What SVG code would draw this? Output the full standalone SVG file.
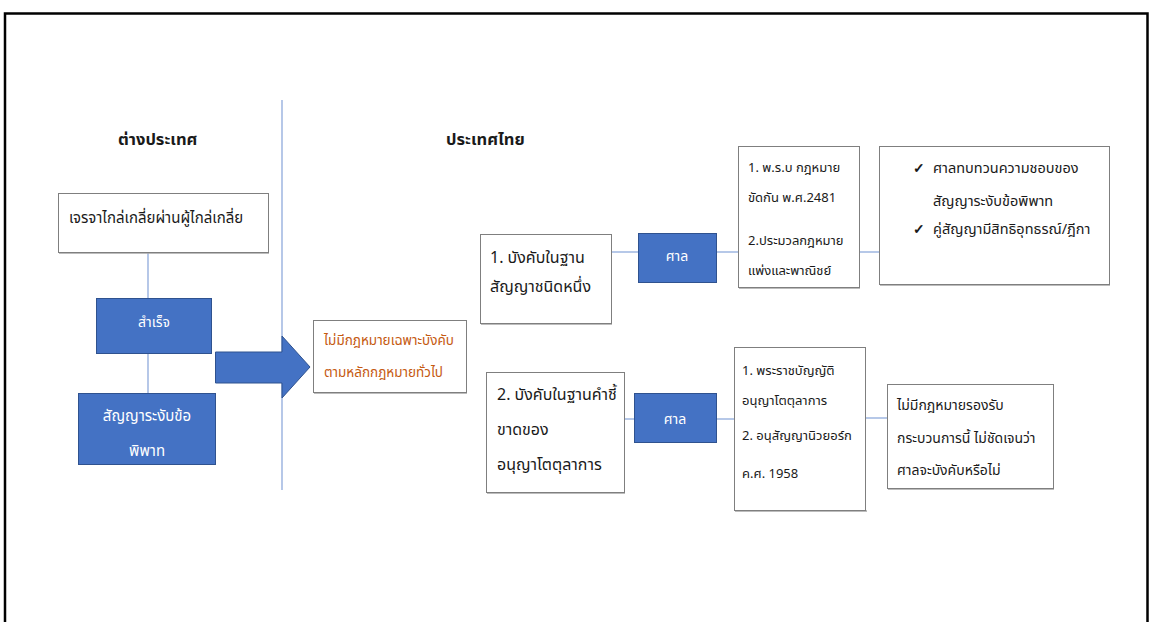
<svg xmlns="http://www.w3.org/2000/svg" width="1151" height="622" viewBox="0 0 1151 622">
<style>
.t{font-family:Tahoma,"Noto Sans Thai","Noto Sans","Liberation Sans",sans-serif;fill:#1a1a1a}
.h{font-size:16.5px;font-weight:bold}
.s13{font-size:13px}
.s135{font-size:13.5px}
.s14{font-size:14px}
.s145{font-size:14.5px}
.s15{font-size:15px}
.s16{font-size:16px}
.w{fill:#ffffff}
.o{fill:#C55A11}
.box{fill:#ffffff;stroke:#7f7f7f;stroke-width:1}
.sh{fill:none;stroke:#a6a6a6;stroke-width:1.5}
.blue{fill:#4472C4;stroke:#2F528F;stroke-width:1}
.ln{stroke:#8FAADC;stroke-width:1.3;fill:none}
</style>
<rect width="1151" height="622" fill="#ffffff"/>
<path d="M5,622 V13.5 H1147.5 V622" fill="none" stroke="#000" stroke-width="2.5"/>

<g id="connectors">
<line class="ln" x1="282" y1="100" x2="282" y2="490"/>
<line class="ln" x1="148" y1="253" x2="148" y2="298"/>
<line class="ln" x1="148" y1="353" x2="148" y2="393"/>
<line class="ln" x1="612" y1="252" x2="638" y2="252"/>
<line class="ln" x1="717" y1="252" x2="738" y2="252"/>
<line class="ln" x1="859" y1="252" x2="879" y2="252"/>
<line class="ln" x1="624" y1="419" x2="634" y2="419"/>
<line class="ln" x1="717" y1="419" x2="734" y2="419"/>
<line class="ln" x1="866" y1="418" x2="887" y2="418"/>
<path id="bigarrow" d="M215.5,352 H282 V336 L310,367 L282,398 V383 H215.5 Z" fill="#4472C4" stroke="#2F528F" stroke-width="1"/>
</g>

<g id="title-foreign"><text class="t h" x="118" y="145">ต่างประเทศ</text></g>
<g id="title-thai"><text class="t h" x="446" y="145">ประเทศไทย</text></g>

<g id="mediation">
<line class="sh" x1="59" y1="253" x2="269" y2="253"/>
<rect class="box" x="58.5" y="193.5" width="210" height="59"/>
<text class="t s15" x="69" y="223">เจรจาไกล่เกลี่ยผ่านผู้ไกล่เกลี่ย</text>
</g>

<g id="success">
<rect class="blue" x="96.5" y="298.5" width="115" height="55"/>
<text class="t s14 w" x="154" y="327" text-anchor="middle">สำเร็จ</text>
</g>

<g id="settlement">
<rect class="blue" x="78.5" y="393.5" width="137" height="71"/>
<text class="t s15 w" x="147" y="421" text-anchor="middle">สัญญาระงับข้อ</text>
<text class="t s15 w" x="147" y="456" text-anchor="middle">พิพาท</text>
</g>

<g id="general-law">
<line class="sh" x1="314" y1="393" x2="467" y2="393"/>
<rect class="box" x="313.5" y="320.5" width="153" height="72"/>
<text class="t s135 o" x="324" y="345">ไม่มีกฎหมายเฉพาะบังคับ</text>
<text class="t s135 o" x="324" y="377">ตามหลักกฎหมายทั่วไป</text>
</g>

<g id="contract">
<line class="sh" x1="481" y1="324" x2="612" y2="324"/>
<rect class="box" x="480.5" y="234.5" width="131" height="89"/>
<text class="t s16" x="490" y="263">1. บังคับในฐาน</text>
<text class="t s16" x="490" y="292">สัญญาชนิดหนึ่ง</text>
</g>

<g id="court1">
<rect class="blue" x="638.5" y="233.5" width="78" height="49"/>
<text class="t s14 w" x="677" y="261" text-anchor="middle">ศาล</text>
</g>

<g id="laws1">
<line class="sh" x1="739" y1="288" x2="860" y2="288"/>
<rect class="box" x="738.5" y="146.5" width="121" height="141"/>
<text class="t s13" x="748" y="172">1. พ.ร.บ กฎหมาย</text>
<text class="t s13" x="748" y="202">ขัดกัน พ.ศ.2481</text>
<text class="t s13" x="748" y="245">2.ประมวลกฎหมาย</text>
<text class="t s13" x="748" y="275">แพ่งและพาณิชย์</text>
</g>

<g id="review">
<line class="sh" x1="880" y1="285" x2="1110" y2="285"/>
<rect class="box" x="879.5" y="146.5" width="230" height="138"/>
<text class="t s14" x="913" y="173" font-weight="bold">✓</text>
<text class="t s145" x="933" y="173">ศาลทบทวนความชอบของ</text>
<text class="t s145" x="933" y="206">สัญญาระงับข้อพิพาท</text>
<text class="t s14" x="913" y="234" font-weight="bold">✓</text>
<text class="t s145" x="933" y="234">คู่สัญญามีสิทธิอุทธรณ์/ฎีกา</text>
</g>

<g id="award">
<line class="sh" x1="487" y1="493" x2="625" y2="493"/>
<rect class="box" x="486.5" y="372.5" width="138" height="120"/>
<text class="t s16" x="497" y="400">2. บังคับในฐานคำชี้</text>
<text class="t s16" x="497" y="435">ขาดของ</text>
<text class="t s16" x="497" y="470">อนุญาโตตุลาการ</text>
</g>

<g id="court2">
<rect class="blue" x="634.5" y="393.5" width="82" height="49"/>
<text class="t s14 w" x="675" y="424" text-anchor="middle">ศาล</text>
</g>

<g id="laws2">
<line class="sh" x1="735" y1="511" x2="867" y2="511"/>
<rect class="box" x="734.5" y="347.5" width="131" height="163"/>
<text class="t s13" x="742" y="375">1. พระราชบัญญัติ</text>
<text class="t s13" x="742" y="405">อนุญาโตตุลาการ</text>
<text class="t s13" x="742" y="440">2. อนุสัญญานิวยอร์ก</text>
<text class="t s13" x="742" y="478">ค.ศ. 1958</text>
</g>

<g id="no-law">
<line class="sh" x1="888" y1="489" x2="1054" y2="489"/>
<rect class="box" x="887.5" y="384.5" width="166" height="104"/>
<text class="t s14" x="897" y="410">ไม่มีกฎหมายรองรับ</text>
<text class="t s14" x="897" y="443">กระบวนการนี้ ไม่ชัดเจนว่า</text>
<text class="t s14" x="897" y="475">ศาลจะบังคับหรือไม่</text>
</g>
</svg>
